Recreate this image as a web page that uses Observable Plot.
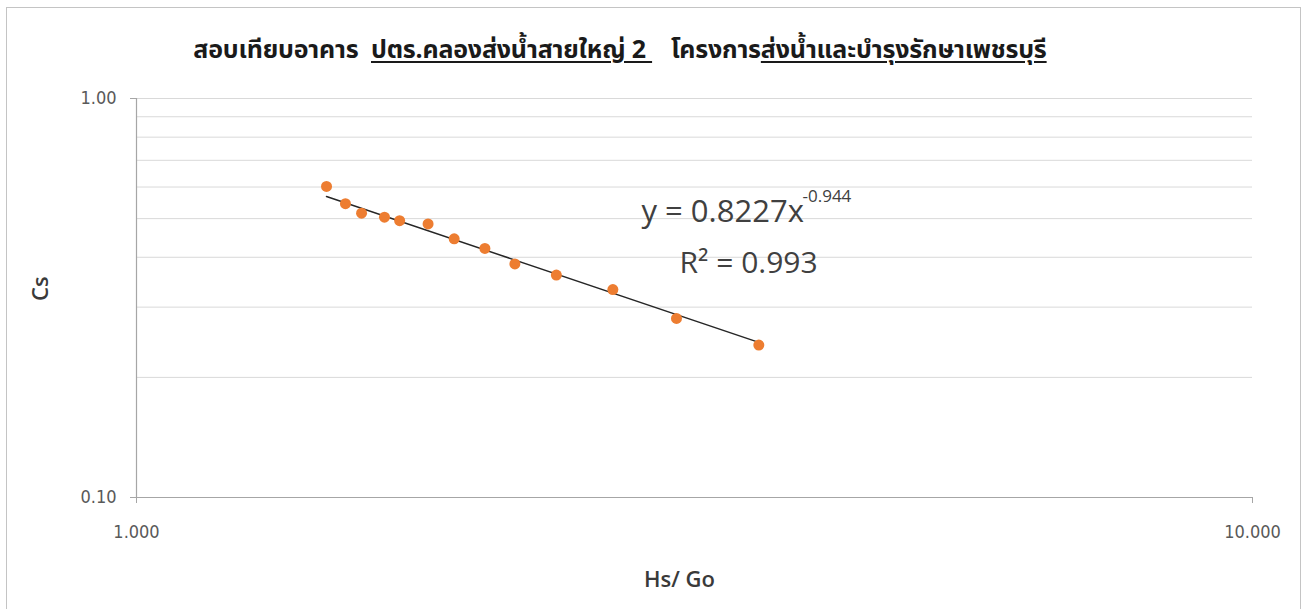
<!DOCTYPE html>
<html>
<head>
<meta charset="utf-8">
<script src="https://cdn.jsdelivr.net/npm/d3@7"></script>
<script src="https://cdn.jsdelivr.net/npm/@observablehq/plot@0.6"></script>
<style>
  html, body { margin: 0; padding: 0; background: #fff; }
  body { width: 1307px; height: 609px; position: relative; overflow: hidden; }
  #frame { position: absolute; left: 6px; top: 7px; width: 1295px; height: 620px;
           border: 1.5px solid #c4c4c4; box-sizing: border-box; }
  #title { position: absolute; left: 0; top: 31px; width: 1240px; text-align: center;
           font-family: "Noto Sans Thai", "Noto Sans", sans-serif; font-weight: bold;
           font-size: 25px; color: #1a1a1a; white-space: pre; letter-spacing: -0.2px; }
  #title u { text-underline-offset: 3px; text-decoration-thickness: 1.5px; }
  #chart { position: absolute; left: 0; top: 70px; }
</style>
</head>
<body>
<div id="frame"></div>
<div id="title">สอบเทียบอาคาร  <u>ปตร.คลองส่งน้ำสายใหญ่ 2 </u>   โครงการ<u>ส่งน้ำและบำรุงรักษาเพชรบุรี</u></div>
<div id="chart"></div>
<script>
// Measured Hs/Go ratio and discharge coefficient Cs
const hsGo = [1.480, 1.539, 1.591, 1.668, 1.721, 1.825, 1.926, 2.052, 2.183, 2.378, 2.672, 3.047, 3.611];
const cs   = [0.602, 0.545, 0.516, 0.504, 0.494, 0.485, 0.445, 0.421, 0.385, 0.361, 0.332, 0.281, 0.241];

// Power trendline Cs = a * (Hs/Go)^b
const trendA = 0.8227;
const trendB = -0.944;
const trendR2 = 0.993;

const xTicks = [1, 10];
const yTicks = [0.1, 1];
const yGrid = [0.2, 0.3, 0.4, 0.5, 0.6, 0.7, 0.8, 0.9, 1.0];

const xTitle = "Hs/ Go";
const yTitle = "Cs";

const points = hsGo.map((x, i) => ({x, y: cs[i]}));
const xMin = d3.min(hsGo), xMax = d3.max(hsGo);
const trend = [xMin, xMax].map(x => ({x, y: trendA * Math.pow(x, trendB)}));

const labelFont = "'DejaVu Sans Condensed', 'DejaVu Sans', sans-serif";
const eqFont = "'Open Sans', 'Noto Sans', sans-serif";
const titleFont = "'Open Sans', 'Noto Sans', sans-serif";

const chart = Plot.plot({
  width: 1307,
  height: 539,
  marginLeft: 136,
  marginRight: 55,
  marginTop: 28,
  marginBottom: 112,
  style: {fontFamily: labelFont, fontSize: "18px", color: "#595959", background: "transparent"},
  x: {type: "log", domain: [1, 10]},
  y: {type: "log", domain: [0.1, 1]},
  marks: [
    Plot.ruleY(yGrid, {stroke: "#d9d9d9", strokeWidth: 1}),
    Plot.ruleY([0.1], {stroke: "#a6a6a6", strokeWidth: 1.2}),
    Plot.ruleX([1], {stroke: "#a6a6a6", strokeWidth: 1.2}),
    Plot.axisX({ticks: xTicks, tickFormat: d3.format(".3f"), tickSize: 6, tickPadding: 22,
                stroke: "#a6a6a6", fontSize: 18, label: null}),
    Plot.axisY({ticks: yTicks, tickFormat: d3.format(".2f"), tickSize: 6, tickPadding: 14,
                stroke: "#a6a6a6", fontSize: 18, label: null}),
    // axis titles
    Plot.text([xTitle], {frameAnchor: "bottom", dx: -15, dy: 82, lineAnchor: "middle",
               fontSize: 22, fontFamily: titleFont, fontWeight: 600, fill: "#3a3a3a"}),
    Plot.text([yTitle], {frameAnchor: "left", dx: -96, dy: 3, rotate: -90, lineAnchor: "middle",
               fontSize: 22, fontFamily: titleFont, fontWeight: 600, fill: "#3a3a3a"}),
    Plot.line(trend, {x: "x", y: "y", stroke: "#262626", strokeWidth: 1.5}),
    Plot.dot(points, {x: "x", y: "y", r: 5.5, fill: "#ED7D31", stroke: "none"}),
    // trendline equation and fit quality
    Plot.text([`y = ${trendA}x`], {frameAnchor: "top-left", dx: 505, dy: 114, textAnchor: "start",
               lineAnchor: "middle", fontSize: 31, fontFamily: eqFont, fill: "#404040"}),
    Plot.text([`${trendB}`], {frameAnchor: "top-left", dx: 666, dy: 98, textAnchor: "start",
               lineAnchor: "middle", fontSize: 17, fontFamily: eqFont, fill: "#404040"}),
    Plot.text([`R² = ${trendR2}`], {frameAnchor: "top-left", dx: 543, dy: 165, textAnchor: "start",
               lineAnchor: "middle", fontSize: 30, fontFamily: eqFont, fill: "#404040"})
  ]
});

document.getElementById("chart").appendChild(chart);
</script>
</body>
</html>
